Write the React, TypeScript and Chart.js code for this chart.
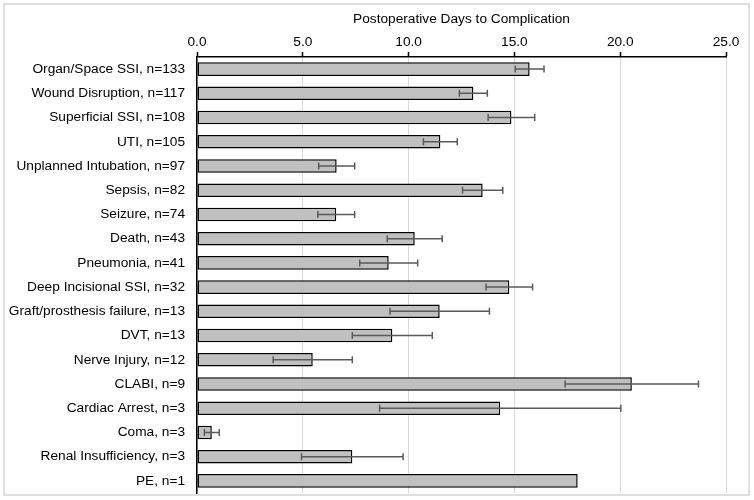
import React, { useEffect, useRef } from "react";
import { Chart, registerables } from "chart.js";

Chart.register(...registerables);

const categories: string[] = [
  "Organ/Space SSI, n=133",
  "Wound Disruption, n=117",
  "Superficial SSI, n=108",
  "UTI, n=105",
  "Unplanned Intubation, n=97",
  "Sepsis, n=82",
  "Seizure, n=74",
  "Death, n=43",
  "Pneumonia, n=41",
  "Deep Incisional SSI, n=32",
  "Graft/prosthesis failure, n=13",
  "DVT, n=13",
  "Nerve Injury, n=12",
  "CLABI, n=9",
  "Cardiac Arrest, n=3",
  "Coma, n=3",
  "Renal Insufficiency, n=3",
  "PE, n=1",
];

const meanDays: number[] = [
  15.72, 13.06, 14.86, 11.5, 6.6, 13.5, 6.58, 10.29, 9.06, 14.76, 11.47, 9.23, 5.47, 20.55,
  14.33, 0.7, 7.34, 17.99,
];

const errorDays: number[] = [
  0.68, 0.66, 1.1, 0.8, 0.85, 0.95, 0.87, 1.3, 1.37, 1.1, 2.35, 1.89, 1.87, 3.15, 5.7, 0.35,
  2.4, 0,
];

const xTicks: number[] = [0, 5, 10, 15, 20, 25];

const FONT = "'Liberation Sans', Arial, Helvetica, sans-serif";
const FS = 13.7;

const errorBarPlugin = {
  id: "errorBars",
  afterDatasetsDraw(chart: any) {
    const meta = chart.getDatasetMeta(0);
    const xs = chart.scales.x;
    const ctx = chart.ctx;
    ctx.save();
    ctx.strokeStyle = "#5a5a5a";
    ctx.lineWidth = 1.5;
    meta.data.forEach((bar: any, i: number) => {
      const e = errorDays[i];
      if (!e) return;
      const v = meanDays[i];
      const x1 = xs.getPixelForValue(v - e);
      const x2 = xs.getPixelForValue(v + e);
      const y = bar.y;
      ctx.beginPath();
      ctx.moveTo(x1, y);
      ctx.lineTo(x2, y);
      ctx.moveTo(x1, y - 3.5);
      ctx.lineTo(x1, y + 3.5);
      ctx.moveTo(x2, y - 3.5);
      ctx.lineTo(x2, y + 3.5);
      ctx.stroke();
    });
    ctx.restore();
  },
  afterDraw(chart: any) {
    const ctx = chart.ctx;
    ctx.save();
    ctx.strokeStyle = "#d6d6d6";
    ctx.lineWidth = 1.5;
    ctx.strokeRect(4, 4, 745, 491);
    ctx.restore();
  },
};

export default function App() {
  const ref = useRef<HTMLCanvasElement | null>(null);

  useEffect(() => {
    document.body.style.margin = "0";
    const canvas = ref.current;
    if (!canvas) return;
    const chart = new Chart(canvas, {
      type: "bar",
      data: {
        labels: categories,
        datasets: [
          {
            data: meanDays,
            backgroundColor: "#c0c0c0",
            borderColor: "#000000",
            borderWidth: 1.5,
            borderSkipped: false,
            barPercentage: 0.56,
            categoryPercentage: 1,
          },
        ],
      },
      options: {
        indexAxis: "y",
        animation: false,
        responsive: false,
        maintainAspectRatio: false,
        layout: { padding: { left: 0, right: 28, top: 0, bottom: 7 } },
        plugins: {
          legend: { display: false },
          tooltip: { enabled: false },
        },
        scales: {
          x: {
            position: "top",
            min: 0,
            max: 25,
            afterBuildTicks: (scale: any) => {
              scale.ticks = xTicks.map((v) => ({ value: v }));
            },
            afterFit: (scale: any) => {
              scale.height = 57;
            },
            ticks: {
              color: "#000",
              font: { family: FONT, size: FS },
              padding: 2,
              maxRotation: 0,
              callback: (v: any) => Number(v).toFixed(1),
            },
            grid: {
              color: "#d9d9d9",
              lineWidth: 1,
              tickColor: "#000",
              tickLength: 5,
              tickWidth: 1.5,
            },
            border: { display: true, color: "#000", width: 1.5 },
            title: {
              display: true,
              text: "Postoperative Days to Complication",
              color: "#000",
              font: { family: FONT, size: FS },
              padding: { top: 11, bottom: 2 },
            },
          },
          y: {
            afterFit: (scale: any) => {
              scale.width = 197;
              scale.paddingTop = 0;
              scale.paddingBottom = 0;
            },
            ticks: {
              color: "#000",
              font: { family: FONT, size: FS },
              padding: 12,
            },
            grid: { display: false, drawTicks: false },
            border: { display: true, color: "#000", width: 1.5 },
          },
        },
      },
      plugins: [errorBarPlugin],
    } as any);
    return () => chart.destroy();
  }, []);

  return (
    <div style={{ position: "absolute", left: 0, top: 0, width: 754, height: 500, background: "#fff" }}>
      <canvas ref={ref} width={754} height={500} style={{ width: 754, height: 500 }} />
    </div>
  );
}
